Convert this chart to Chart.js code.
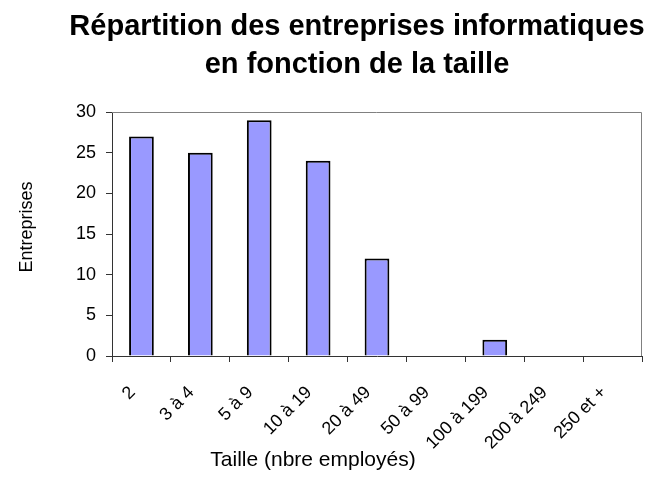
<!DOCTYPE html>
<html>
<head>
<meta charset="utf-8">
<script src="https://cdn.jsdelivr.net/npm/chart.js@4"></script>
<style>
  html, body { margin: 0; padding: 0; background: #fff; }
  #wrap { width: 653px; height: 478px; }
</style>
</head>
<body>
<div id="wrap"><canvas id="chart1" width="653" height="478"></canvas></div>
<script>
// Données
const categories = ['2', '3 à 4', '5 à 9', '10 à 19', '20 à 49', '50 à 99', '100 à 199', '200 à 249', '250 et +'];
const entreprises = [27, 25, 29, 24, 12, 0, 2, 0, 0];
const yTicks = [0, 5, 10, 15, 20, 25, 30];

const titleLines = ['Répartition des entreprises informatiques', 'en fonction de la taille'];
const xTitle = 'Taille (nbre employés)';
const yTitle = 'Entreprises';

const FONT = '"Liberation Sans", Arial, sans-serif';

// Titres dessinés à la main + cadre gris de la zone de tracé
const decorPlugin = {
    id: 'decor',
    beforeDatasetsDraw(chart) {
        const { ctx, chartArea: a } = chart;
        ctx.save();
        ctx.strokeStyle = '#808080';
        ctx.lineWidth = 1;
        ctx.beginPath();
        ctx.moveTo(a.left, a.top + 0.5);
        ctx.lineTo(a.right - 0.5, a.top + 0.5);
        ctx.lineTo(a.right - 0.5, a.bottom);
        ctx.stroke();
        ctx.restore();
    },
    afterDraw(chart) {
        const ctx = chart.ctx;
        ctx.save();
        ctx.fillStyle = '#000';
        ctx.textAlign = 'center';
        ctx.textBaseline = 'alphabetic';

        ctx.font = 'bold 29px ' + FONT;
        ctx.fillText(titleLines[0], 357, 35);
        ctx.fillText(titleLines[1], 357, 73);

        ctx.font = '21px ' + FONT;
        ctx.fillText(xTitle, 313, 466);

        ctx.font = '18px ' + FONT;
        ctx.translate(32, 227);
        ctx.rotate(-Math.PI / 2);
        ctx.fillText(yTitle, 0, 0);
        ctx.restore();
    }
};

const ctx = document.getElementById('chart1').getContext('2d');
new Chart(ctx, {
    type: 'bar',
    data: {
        labels: categories,
        datasets: [{
            label: yTitle,
            data: entreprises,
            backgroundColor: '#9999ff',
            borderColor: '#000000',
            borderWidth: 2,
            categoryPercentage: 1,
            barPercentage: 0.42
        }]
    },
    options: {
        responsive: false,
        animation: false,
        layout: { padding: { top: 112, right: 11, bottom: 0, left: 0 } },
        plugins: {
            legend: { display: false },
            tooltip: { enabled: false }
        },
        scales: {
            x: {
                offset: true,
                grid: { offset: true, drawOnChartArea: false, tickLength: 6, color: '#333' },
                border: { color: '#333', width: 1 },
                ticks: {
                    color: '#000',
                    font: { family: FONT, size: 18 },
                    minRotation: 45,
                    maxRotation: 45,
                    padding: 20,
                    labelOffset: -9,
                    autoSkip: false
                },
                afterFit(scale) { scale.height = 122; }
            },
            y: {
                min: 0,
                max: 30,
                afterBuildTicks(scale) { scale.ticks = yTicks.map(v => ({ value: v })); },
                grid: { drawOnChartArea: false, tickLength: 6, color: '#333' },
                border: { color: '#333', width: 1 },
                ticks: {
                    color: '#000',
                    font: { family: FONT, size: 18 },
                    padding: 10
                },
                afterFit(scale) { scale.width = 112; }
            }
        }
    },
    plugins: [decorPlugin]
});
</script>
</body>
</html>
